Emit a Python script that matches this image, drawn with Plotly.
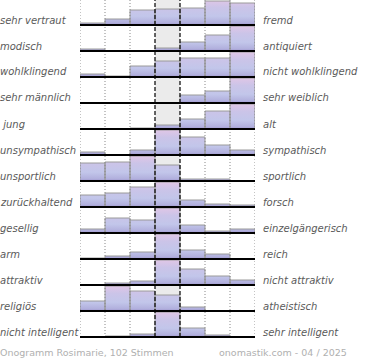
import plotly.graph_objects as go

left_labels = ["sehr vertraut", "modisch", "wohlklingend", "sehr männlich", "\u00a0jung",
               "unsympathisch", "unsportlich", "zurückhaltend", "gesellig", "arm",
               "attraktiv", "religiös", "nicht intelligent"]
right_labels = ["fremd", "antiquiert", "nicht wohlklingend", "sehr weiblich", "alt",
                "sympathisch", "sportlich", "forsch", "einzelgängerisch", "reich",
                "nicht attraktiv", "atheistisch", "sehr intelligent"]
# percent of votes per scale step (7 steps), one list per row
values = [
    [2, 6, 15, 16, 17, 24, 22],
    [2, 0, 0, 3, 9, 16, 70],
    [3, 1, 11, 16, 19, 19, 31],
    [0, 0, 0, 0, 8, 12, 80],
    [0, 0, 1, 4, 10, 18, 67],
    [3, 0, 5, 58, 18, 10, 5],
    [18, 19, 44, 16, 2, 2, 0],
    [12, 14, 20, 41, 7, 3, 2],
    [4, 15, 13, 53, 8, 2, 4],
    [1, 3, 7, 75, 9, 5, 0],
    [0, 2, 4, 65, 16, 9, 5],
    [10, 49, 20, 16, 4, 0, 0],
    [0, 1, 3, 85, 9, 2, 0],
]
footer_left = "Onogramm Rosimarie, 102 Stimmen"
footer_right = "onomastik.com - 04 / 2025"

W, H = 370, 360
ROW = 26          # row pitch in axis units (1 unit = 1 px)
FULL = 25         # max visible bar height per row
TOP_BASE = 25     # pixel y of first baseline
NSTEP = 7

CS = [[0.0, "#8c7cc0"], [0.07, "#b0aedc"], [0.35, "#c2c6ea"],
      [0.7, "#cbc4e8"], [1.0, "#e0c6e6"]]

fig = go.Figure()
shapes = []
annotations = []
nrows = len(values)
bases = [H - (TOP_BASE + ROW * i) for i in range(nrows)]
bottom = bases[-1]

# gray middle column background
shapes.append(dict(type="rect", xref="x", yref="y", x0=3, x1=4, y0=bottom, y1=H,
                   fillcolor="#ebebeb", line=dict(width=0), layer="below"))

for i, row in enumerate(values):
    b = bases[i]
    xs, ys = [0], [b]
    ox, oy = [], []
    for k, v in enumerate(row):
        h = min(v, FULL)
        xs += [k, k + 1]
        ys += [b + h, b + h]
        if v > 0:
            ox += [k, k, k + 1, k + 1, None]
            oy += [b, b + h, b + h, b, None]
    xs += [NSTEP, 0]
    ys += [b, b]
    fig.add_trace(go.Scatter(x=xs, y=ys, mode="lines", fill="toself",
                             line=dict(width=0), hoverinfo="skip",
                             fillgradient=dict(type="vertical", colorscale=CS,
                                               start=b, stop=b + FULL),
                             showlegend=False))
    fig.add_trace(go.Scatter(x=ox, y=oy, mode="lines",
                             line=dict(width=1, color="#9a9a9a"),
                             hoverinfo="skip", showlegend=False))
    py = TOP_BASE + ROW * i - 5
    annotations.append(dict(xref="paper", yref="paper", x=0, y=1 - py / H,
                            text=left_labels[i], showarrow=False, xanchor="left",
                            yanchor="middle", xshift=-2,
                            font=dict(family="DejaVu Sans", size=10, color="#5a5a5a",
                                      style="italic")))
    annotations.append(dict(xref="paper", yref="paper", x=263 / W, y=1 - py / H,
                            text=right_labels[i], showarrow=False, xanchor="left",
                            yanchor="middle", xshift=-2,
                            font=dict(family="DejaVu Sans", size=10, color="#5a5a5a",
                                      style="italic")))

# grid lines
for xv in [0, 1, 2, 5, 6, 7]:
    shapes.append(dict(type="line", xref="x", yref="y", x0=xv, x1=xv, y0=bottom, y1=H,
                       line=dict(color="#888888", width=1, dash="1px,2px"), layer="above"))
for xv in [3, 4]:
    shapes.append(dict(type="line", xref="x", yref="y", x0=xv, x1=xv, y0=bottom, y1=H,
                       line=dict(color="#000000", width=1.2, dash="4px,2px"), layer="above"))
for b in bases:
    shapes.append(dict(type="line", xref="x", yref="y", x0=0, x1=NSTEP, y0=b, y1=b,
                       line=dict(color="#000000", width=1.8), layer="above"))

annotations.append(dict(xref="paper", yref="paper", x=0, y=1 - 352 / H, text=footer_left,
                        showarrow=False, xanchor="left", yanchor="middle", xshift=-2,
                        font=dict(family="DejaVu Sans", size=9.5, color="#b0b0b0")))
annotations.append(dict(xref="paper", yref="paper", x=347 / W, y=1 - 352 / H, text=footer_right,
                        showarrow=False, xanchor="right", yanchor="middle", xshift=2,
                        font=dict(family="DejaVu Sans", size=9.5, color="#b0b0b0")))

fig.update_layout(
    width=W, height=H, margin=dict(l=0, r=0, t=0, b=0, pad=0),
    paper_bgcolor="white", plot_bgcolor="rgba(0,0,0,0)",
    xaxis=dict(domain=[80 / W, 255 / W], range=[0, NSTEP], visible=False, fixedrange=True),
    yaxis=dict(domain=[0, 1], range=[0, H], visible=False, fixedrange=True),
    shapes=shapes, annotations=annotations, showlegend=False,
)
fig.write_html("out.html", config={"displayModeBar": False},
               post_script="document.body.style.margin='0px';document.body.style.overflow='hidden';")
